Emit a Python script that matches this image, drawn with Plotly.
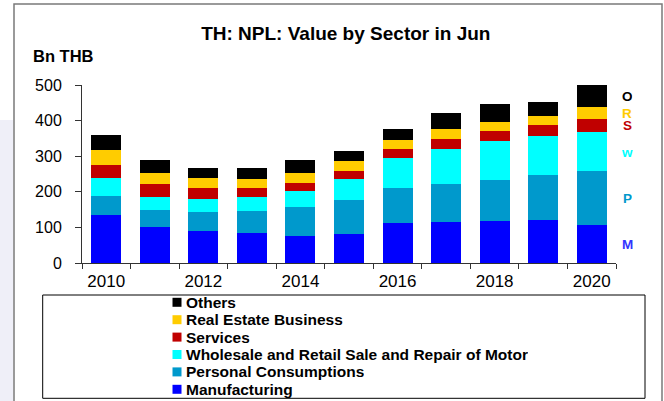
import plotly.graph_objects as go

# ---- data (Bn THB, NPL value by sector in June) ----
years = ["2010", "2011", "2012", "2013", "2014", "2015", "2016", "2017", "2018", "2019", "2020"]
year_tick_text = ["2010", "", "2012", "", "2014", "", "2016", "", "2018", "", "2020"]

manufacturing = [135, 101, 90, 83, 77, 82, 112, 115, 118, 120, 106]
personal = [54, 47, 53, 64, 81, 95, 99, 106, 115, 126, 152]
wholesale = [51, 38, 36, 38, 44, 60, 85, 100, 109, 112, 110]
services = [36, 35, 31, 26, 24, 22, 23, 28, 29, 31, 37]
real_estate = [41, 32, 28, 25, 28, 27, 26, 28, 24, 25, 32]
others = [43, 36, 29, 32, 34, 29, 31, 43, 51, 39, 64]

series_names = ["Manufacturing", "Personal Consumptions",
                "Wholesale and Retail Sale and Repair of Motor",
                "Services", "Real Estate Business", "Others"]
series_values = [manufacturing, personal, wholesale, services, real_estate, others]
series_short = ["M", "P", "w", "S", "R", "O"]
colors = ["#0000FF", "#0099CC", "#00FFFF", "#C00000", "#FFCC00", "#000000"]
short_colors = ["#3333FF", "#0099CC", "#00FFFF", "#C00000", "#FFCC00", "#000000"]

FONT = "Liberation Sans, Arial, sans-serif"

# plot area geometry (pixels)
W_FIG, H_FIG = 664, 401
L, R, T, B = 82, 48, 85, 138
PW = W_FIG - L - R
PH = H_FIG - T - B


def px_x(px):
    return (px - L) / PW


def px_y(py):
    return (T + PH - py) / PH


fig = go.Figure()
for name, vals, col in zip(series_names, series_values, colors):
    fig.add_trace(go.Bar(x=years, y=vals, name=name, marker_color=col,
                         marker_line_width=0, showlegend=False))

annotations = []
shapes = []

# right-side letter labels at the mid-point of each segment of the last bar
cum = 0
for vals, lab, col in zip(series_values, series_short, short_colors):
    mid = cum + vals[-1] / 2
    cum += vals[-1]
    annotations.append(dict(x=px_x(627), xref="paper", y=mid, yref="y", text="<b>%s</b>" % lab,
                            showarrow=False, font=dict(family=FONT, size=13.5, color=col),
                            xanchor="center", yanchor="middle", height=12))

# y-axis unit label
annotations.append(dict(x=px_x(31), xref="paper", y=px_y(56), yref="paper", text="<b>Bn THB</b>",
                        showarrow=False, font=dict(family=FONT, size=16.5, color="black"),
                        xanchor="left", yanchor="middle"))

# manual legend (top entry = Others)
row_y0, row_dy = 302.3, 17.4
for i, (name, col) in enumerate(zip(reversed(series_names), reversed(colors))):
    cy = row_y0 + i * row_dy
    shapes.append(dict(type="rect", xref="paper", yref="paper",
                       x0=px_x(172.5), x1=px_x(181.5), y0=px_y(cy - 4.5), y1=px_y(cy + 4.5),
                       fillcolor=col, line=dict(width=0)))
    annotations.append(dict(x=px_x(184), xref="paper", y=px_y(cy), yref="paper",
                            text="<b>%s</b>" % name, showarrow=False,
                            font=dict(family=FONT, size=15.5, color="black"),
                            xanchor="left", yanchor="middle", height=17))

# legend box
shapes.append(dict(type="rect", xref="paper", yref="paper",
                   x0=px_x(42.7), x1=px_x(645), y0=px_y(295), y1=px_y(398.3),
                   line=dict(color="black", width=1), fillcolor="rgba(0,0,0,0)", layer="below"))
# outer chart frame
shapes.append(dict(type="rect", xref="paper", yref="paper",
                   x0=px_x(14), x1=px_x(662), y0=px_y(4), y1=px_y(410),
                   line=dict(color="#7a7a7a", width=1.5), fillcolor="rgba(0,0,0,0)", layer="below"))
# faint background strip at far left
shapes.append(dict(type="rect", xref="paper", yref="paper",
                   x0=px_x(0), x1=px_x(13), y0=px_y(120), y1=px_y(401),
                   line=dict(width=0), fillcolor="#EFEFF8", layer="below"))

fig.update_layout(
    width=W_FIG, height=H_FIG, autosize=False,
    margin=dict(l=L, r=R, t=T, b=B, pad=0),
    barmode="stack", bargap=0.383,
    plot_bgcolor="white", paper_bgcolor="white",
    font=dict(family=FONT, color="black"),
    title=dict(text="<b>TH: NPL: Value by Sector in Jun</b>", x=345.8 / W_FIG, xanchor="center",
               y=1 - 33 / H_FIG, yanchor="middle", font=dict(family=FONT, size=19, color="black")),
    showlegend=False,
    annotations=annotations,
    shapes=shapes,
)
fig.update_xaxes(type="category", tickmode="array", tickvals=years, ticktext=year_tick_text,
                 tickson="boundaries", ticks="outside", ticklen=5, tickcolor="#333333",
                 showline=True, linecolor="#333333", linewidth=1, showgrid=False,
                 tickfont=dict(family=FONT, size=17, color="black"), ticklabelstandoff=3)
fig.update_yaxes(range=[0, 500], tickvals=[0, 100, 200, 300, 400, 500], ticks="outside", ticklen=6,
                 tickcolor="#333333", showline=True, linecolor="#333333", linewidth=1,
                 showgrid=False, zeroline=False,
                 tickfont=dict(family=FONT, size=16, color="black"), ticklabelstandoff=10)

fig.write_html("out.html", post_script="document.body.style.margin='0';document.body.style.overflow='hidden';",
               config={"displayModeBar": False})
